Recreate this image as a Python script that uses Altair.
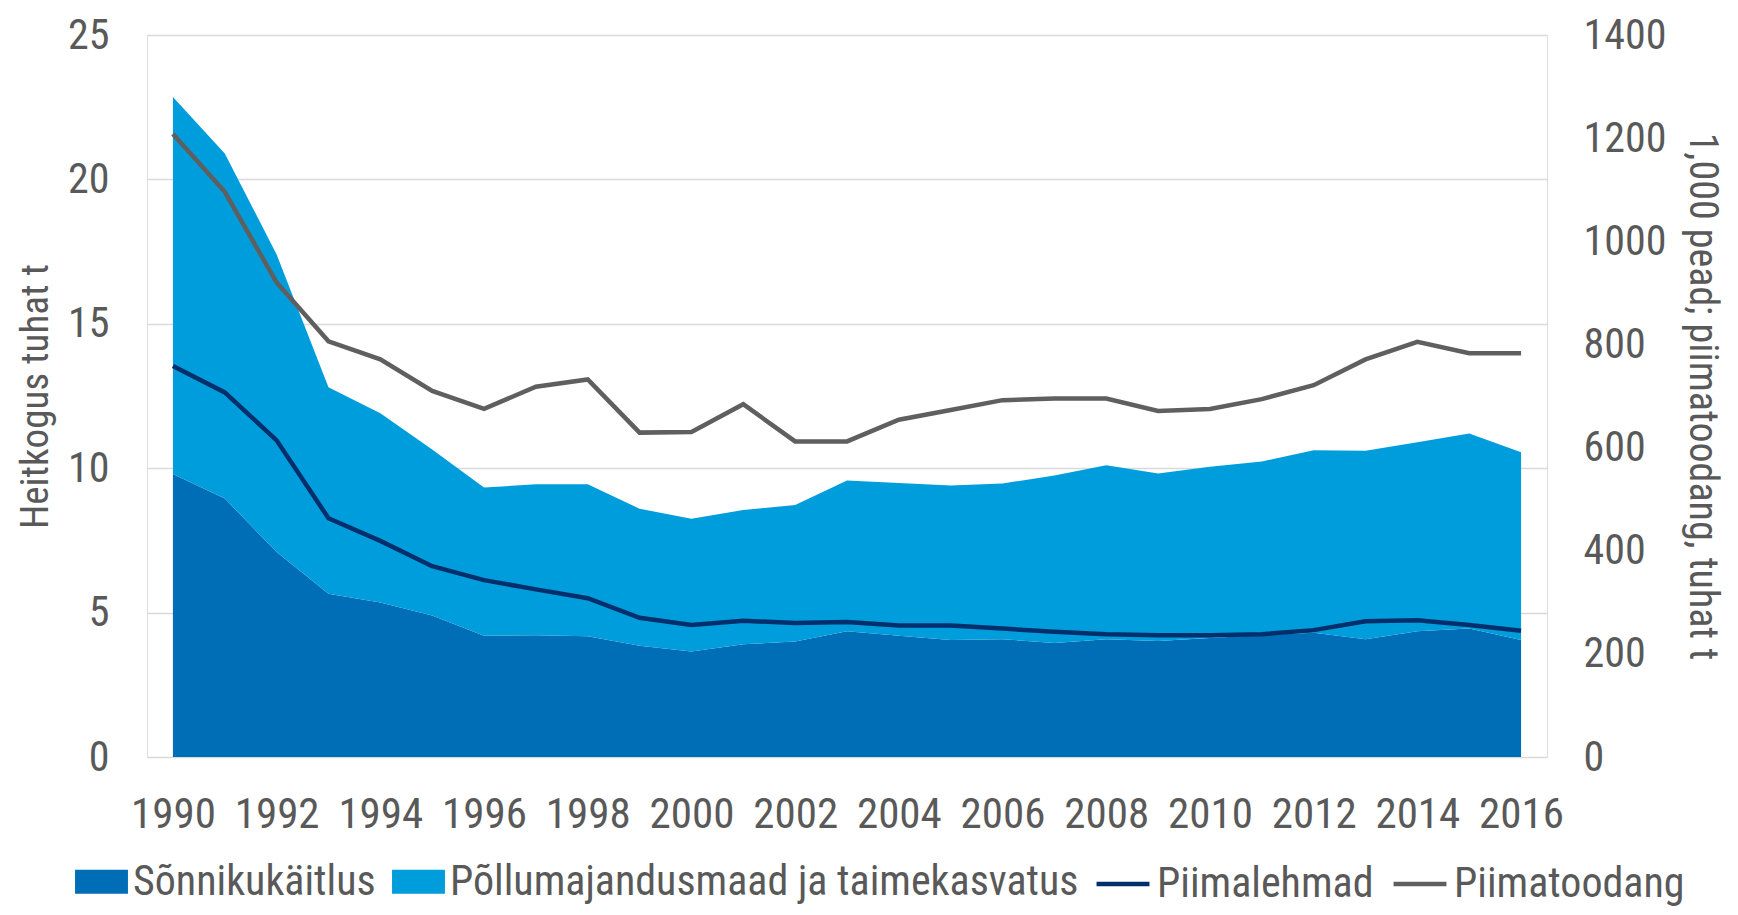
import altair as alt
import pandas as pd

years = list(range(1990, 2017))
sonnik = [9.8, 8.95, 7.1, 5.65, 5.35, 4.9, 4.2, 4.22, 4.18, 3.85, 3.65, 3.9, 4.0, 4.35,
          4.2, 4.05, 4.08, 3.95, 4.08, 4.02, 4.12, 4.22, 4.3, 4.08, 4.35, 4.45, 4.05]
pollu = [13.05, 11.95, 10.3, 7.15, 6.55, 5.75, 5.13, 5.22, 5.26, 4.75, 4.6, 4.65, 4.73, 5.22,
         5.29, 5.35, 5.39, 5.8, 6.02, 5.8, 5.93, 6.01, 6.32, 6.52, 6.55, 6.75, 6.5]
lehmad = [758, 707, 614, 463, 419, 370, 343, 325, 308, 270, 256, 264, 260, 262,
          255, 255, 249, 243, 238, 236, 236, 238, 246, 263, 265, 256, 245]
toodang = [1208, 1096, 920, 806, 771, 710, 675, 718, 732, 629, 630, 684, 612, 612,
           654, 673, 692, 695, 695, 671, 675, 694, 721, 771, 805, 783, 783]

area_names = ["Sõnnikukäitlus", "Põllumajandusmaad ja taimekasvatus"]
area_colors = ["#006EB6", "#009DDC"]
line_names = ["Piimalehmad", "Piimatoodang"]
line_colors = ["#002F6C", "#5F5F5F"]
x_ticks = list(range(1990, 2017, 2))
left_ticks = [0, 5, 10, 15, 20, 25]
right_ticks = list(range(0, 1401, 200))

area_df = pd.DataFrame(
    [{"year": y, "value": v, "series": area_names[0], "ord": 0} for y, v in zip(years, sonnik)]
    + [{"year": y, "value": v, "series": area_names[1], "ord": 1} for y, v in zip(years, pollu)]
)
line_df = pd.DataFrame(
    [{"year": y, "value": v, "series": line_names[0]} for y, v in zip(years, lehmad)]
    + [{"year": y, "value": v, "series": line_names[1]} for y, v in zip(years, toodang)]
)

FONT = "Liberation Sans Narrow, Roboto Condensed, DejaVu Sans Condensed, sans-serif"
TXT = "#595959"

legend_common = dict(
    title=None, orient="none", direction="horizontal",
    labelFontSize=42, labelFont=FONT, labelColor=TXT, labelOffset=5,
    symbolSize=2800, padding=0, labelLimit=1000,
)

x = alt.X(
    "year:Q",
    scale=alt.Scale(domain=[1989.5, 2016.5], nice=False, zero=False),
    axis=alt.Axis(values=x_ticks, format="d", title=None, grid=False, ticks=False,
                  domain=False, labelFontSize=43, labelFont=FONT, labelColor=TXT,
                  labelPadding=36),
)

areas = alt.Chart(area_df).mark_area(opacity=1).encode(
    x=x,
    y=alt.Y("value:Q", stack="zero",
            scale=alt.Scale(domain=[0, 25], nice=False),
            axis=alt.Axis(values=left_ticks, title="Heitkogus tuhat t",
                          grid=True, gridColor="#D9D9D9", gridWidth=1.5, ticks=False, domain=False,
                          labelFontSize=42, labelFont=FONT, labelColor=TXT, labelPadding=38,
                          titleFontSize=39, titleFont=FONT, titleColor=TXT,
                          titleFontWeight="normal", titlePadding=12)),
    fill=alt.Fill("series:N", scale=alt.Scale(domain=area_names, range=area_colors),
                  legend=alt.Legend(legendX=-72, legendY=820, columnPadding=16,
                                    symbolType="M-1,-0.45H1V0.45H-1Z",
                                    symbolStrokeWidth=0, **legend_common)),
    order=alt.Order("ord:Q"),
)

lines = alt.Chart(line_df).mark_line(strokeWidth=4.5).encode(
    x=x,
    y=alt.Y("value:Q",
            scale=alt.Scale(domain=[0, 1400], nice=False),
            axis=alt.Axis(values=right_ticks, format="d", orient="right",
                          title="1,000 pead; piimatoodang, tuhat t",
                          grid=False, ticks=False, domain=False,
                          labelFontSize=42, labelFont=FONT, labelColor=TXT, labelPadding=36,
                          titleFontSize=40, titleFont=FONT, titleColor=TXT,
                          titleFontWeight="normal", titlePadding=16)),
    stroke=alt.Stroke("series:N", scale=alt.Scale(domain=line_names, range=line_colors),
                      legend=alt.Legend(legendX=947, legendY=820, columnPadding=10,
                                        symbolType="stroke",
                                        symbolStrokeWidth=4.5, **legend_common)),
)

chart = alt.layer(areas, lines).resolve_scale(y="independent").properties(
    width=1400, height=722,
    autosize=alt.AutoSizeParams(type="none"),
    padding={"left": 139, "top": 27, "right": 183, "bottom": 150},
).configure_view(stroke=None).configure(background="white")

chart.save("out.html", embed_options={"renderer": "svg", "actions": False})
